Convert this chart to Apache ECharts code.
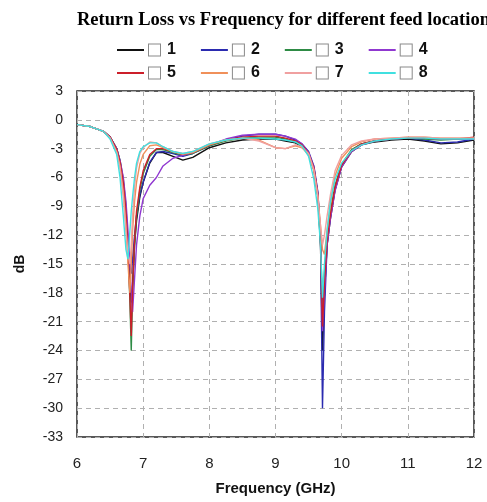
<!DOCTYPE html>
<html>
<head>
<meta charset="utf-8">
<script src="https://cdn.jsdelivr.net/npm/echarts@6/dist/echarts.min.js"></script>
<style>
    html, body { margin: 0; padding: 0; background: #fff; }
    #chart { width: 487px; height: 502px; }
</style>
</head>
<body>
<div id="chart"></div>
<script>
    "use strict";

    // frequency points (GHz), denser around the two resonances
    var freq = [6.0, 6.2, 6.4, 6.5, 6.6, 6.65, 6.7, 6.74, 6.77, 6.8, 6.82, 6.84, 6.87, 6.9, 6.95, 7.0, 7.1, 7.2, 7.3,
        7.45, 7.6, 7.75, 8.0, 8.25, 8.5, 8.75, 9.0, 9.15, 9.3, 9.4, 9.5, 9.58, 9.64, 9.68, 9.71, 9.74, 9.78, 9.83,
        9.9, 10.0, 10.15, 10.3, 10.5, 10.75, 11.0, 11.25, 11.5, 11.75, 12.0];

    // return loss (dB) per feed location
    var loss1 = [-0.5, -0.7, -1.2, -1.8, -3.0, -4.3, -6.5, -9.5, -13,
        -17, -19, -17, -13, -10.5, -8, -6.5, -4.5, -3.4, -3.4,
        -3.8, -4.2, -3.9, -2.9, -2.4, -2.1, -2.0, -2.0, -2.2,
        -2.4, -2.8, -3.6, -5.2, -8, -13, -24, -18, -13, -10.3, -7.3, -4.9, -3.3, -2.6, -2.3,
        -2.1, -2.0, -2.2, -2.5, -2.4, -2.1];
    var loss2 = [-0.5, -0.7, -1.2, -1.8, -3.1, -4.5, -7, -10.5, -13.5,
        -15.5, -16, -14.5, -12, -10, -7.8, -6.5, -4.4, -3.4, -3.3,
        -3.5, -3.8, -3.5, -2.7, -2.1, -1.7, -1.5, -1.5, -1.7,
        -2.1, -2.5, -3.3, -4.8, -7.5, -12, -30, -20, -13, -10, -7.2, -4.8, -3.2, -2.5, -2.2,
        -2.0, -1.9, -2.1, -2.4, -2.3, -2.0];
    var loss3 = [-0.5, -0.7, -1.2, -1.8, -3.0, -4.2, -6.2, -9, -13,
        -19, -24, -18, -13, -10, -7.3, -5.6, -3.8, -3.1, -3.1,
        -3.4, -3.7, -3.5, -2.7, -2.2, -1.9, -1.8, -1.8, -2.0,
        -2.3, -2.7, -3.5, -5, -7.8, -12.5, -19.5, -16, -12, -9.5, -6.8, -4.6, -3.1, -2.5, -2.2,
        -2.0, -1.9, -2.0, -2.1, -2.0, -1.9];
    var loss4 = [-0.5, -0.7, -1.2, -1.8, -3.0, -4.2, -6, -8.5, -11.5,
        -15, -18, -20, -16.5, -13, -10, -8.2, -6.8, -6.0, -4.8,
        -4.0, -3.7, -3.4, -2.6, -2.0, -1.6, -1.5, -1.5, -1.7,
        -2.0, -2.5, -3.4, -4.9, -7.6, -12, -22, -18, -13, -10.3, -7.4, -4.9, -3.3, -2.6, -2.2,
        -2.0, -1.9, -1.9, -2.0, -2.0, -2.0];
    var loss5 = [-0.5, -0.7, -1.2, -1.8, -3.1, -4.4, -6.6, -9.7, -13.5,
        -18.5, -22.5, -17.5, -12.5, -9.5, -7, -5.3, -3.6, -3.0, -3.0,
        -3.3, -3.6, -3.4, -2.6, -2.1, -1.8, -1.7, -1.7, -1.9,
        -2.2, -2.6, -3.5, -5, -7.8, -12.5, -21.5, -17, -12.5, -9.8, -7, -4.7, -3.2, -2.5, -2.2,
        -2.0, -1.9, -1.9, -2.0, -2.0, -1.8];
    var loss6 = [-0.5, -0.7, -1.2, -1.9, -3.3, -4.8, -7.5, -11, -15,
        -18, -15, -11.5, -8.5, -6.5, -4.6, -3.6, -2.7, -2.6, -2.9,
        -3.3, -3.6, -3.4, -2.6, -2.1, -1.9, -2.1, -2.9, -3.0,
        -2.7, -2.9, -3.6, -5.3, -8, -11, -13.5, -14, -11.5, -8.8, -5.8, -4.0, -2.8, -2.3, -2.0,
        -1.9, -1.8, -1.8, -1.9, -1.9, -1.9];
    var loss7 = [-0.5, -0.7, -1.2, -1.9, -3.4, -5, -8, -11.5, -14,
        -15, -13, -10, -7, -5, -3.5, -2.9, -2.3, -2.4, -2.8,
        -3.3, -3.5, -3.3, -2.5, -2.1, -1.9, -2.2, -2.9, -3.0,
        -2.6, -2.8, -3.5, -5.2, -8, -11, -13, -12, -10, -7.8, -5.3, -3.7, -2.6, -2.2, -2.0,
        -1.9, -1.8, -1.8, -1.9, -1.9, -1.9];
    var loss8 = [-0.5, -0.7, -1.2, -2.0, -3.6, -6, -10, -13.5, -14.5,
        -11.5, -9.5, -8, -6, -4.5, -3.3, -2.8, -2.4, -2.4, -2.8,
        -3.3, -3.5, -3.3, -2.5, -2.1, -1.9, -1.9, -2.0, -2.1,
        -2.3, -2.7, -3.8, -6.2, -9.3, -13, -18.5, -15, -11.5, -8.5, -6.2, -4.5, -3.2, -2.6, -2.2,
        -2.0, -1.9, -1.9, -2.0, -2.0, -2.0];

    var names = ["1", "2", "3", "4", "5", "6", "7", "8"];
    var colors = ["#111111", "#2b2bb0", "#2e8b45", "#9038d0", "#cc1f2a", "#f0905a", "#f0a0a0", "#40e0e0"];
    var losses = [loss1, loss2, loss3, loss4, loss5, loss6, loss7, loss8];

    var chart = echarts.init(document.getElementById("chart"));

    var series = names.map(function (n, i) {
        return {
            name: n,
            type: "line",
            symbol: "none",
            color: colors[i],
            lineStyle: {width: 1.4},
            data: freq.map(function (f, k) { return [f, losses[i][k]]; })
        };
    });

    // legend text: a small checkbox followed by the label
    function legendBox(name) {
        return "{b|}{t|" + name + "}";
    }
    var legendRich = {
        b: {width: 11, height: 11, borderColor: "#8a8a8a", borderWidth: 1, backgroundColor: "#fff"},
        t: {fontSize: 16, fontWeight: "bold", color: "#111", padding: [0, 0, 0, 7], fontFamily: "Liberation Sans"}
    };
    function legendRow(top, data) {
        return {
            top: top, left: 112,
            data: data,
            icon: "rect",
            itemWidth: 27, itemHeight: 2,
            itemGap: 25,
            selectedMode: false,
            formatter: legendBox,
            textStyle: {rich: legendRich}
        };
    }

    chart.setOption({
        animation: false,
        title: {
            text: "Return Loss vs Frequency for different feed location",
            left: 72, top: 6,
            textStyle: {fontFamily: "Liberation Serif", fontSize: 18.5, fontWeight: "bold", color: "#000"}
        },
        legend: [legendRow(37, names.slice(0, 4)), legendRow(60, names.slice(4))],
        grid: {left: 77, right: 13, top: 91, bottom: 65, show: true, borderColor: "#222", borderWidth: 1.5},
        xAxis: {
            type: "value", min: 6, max: 12, interval: 1,
            name: "Frequency (GHz)", nameLocation: "middle", nameGap: 44,
            nameTextStyle: {fontSize: 15, fontWeight: "bold", color: "#111", fontFamily: "Liberation Sans"},
            axisLine: {show: false}, axisTick: {show: false},
            axisLabel: {fontSize: 15, color: "#222", margin: 19, fontFamily: "Liberation Sans"},
            splitLine: {lineStyle: {type: [5, 4], color: "#b0b0b0"}}
        },
        yAxis: {
            type: "value", min: -33, max: 3, interval: 3,
            name: "dB", nameLocation: "middle", nameGap: 50, nameRotate: 90,
            nameTextStyle: {fontSize: 14, fontWeight: "bold", color: "#111", fontFamily: "Liberation Sans"},
            axisLine: {show: false}, axisTick: {show: false},
            axisLabel: {fontSize: 14, color: "#222", margin: 14, fontFamily: "Liberation Sans"},
            splitLine: {lineStyle: {type: [5, 4], color: "#b0b0b0"}}
        },
        series: series
    });
</script>
</body>
</html>
